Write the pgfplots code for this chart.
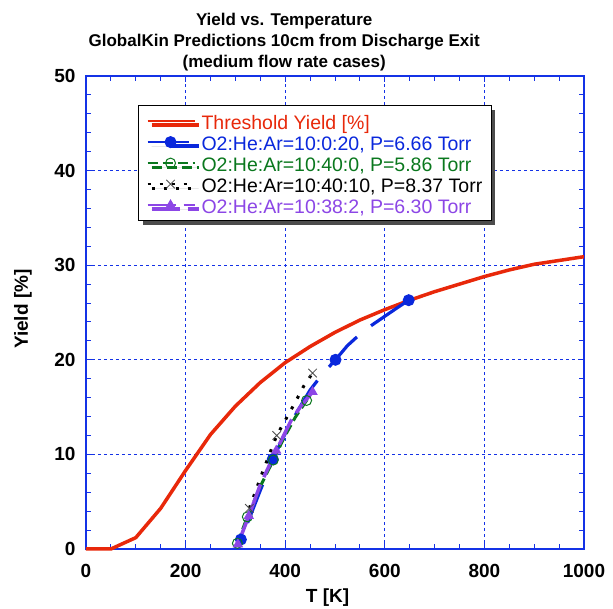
\documentclass[border=0pt]{standalone}
\usepackage{fontspec}
\setmainfont{Liberation Sans}
\usepackage{pgfplots}
\pgfplotsset{compat=1.18}
\usetikzlibrary{calc,shadows}
\definecolor{cRed}{HTML}{E8280A}
\definecolor{cBlue}{HTML}{0A28DC}
\definecolor{cAxis}{HTML}{1432E6}
\definecolor{cGreen}{HTML}{0A781E}
\definecolor{cPurple}{HTML}{8C46E6}

\begin{document}
\begin{tikzpicture}
\begin{axis}[
  scale only axis, width=498pt, height=473pt,
  xmin=0, xmax=1000, ymin=0, ymax=50,
  xtick={0,200,...,1000}, ytick={0,10,...,50},
  minor x tick num=3, minor y tick num=4,
  tick align=inside, major tick length=6pt, minor tick length=5pt,
  every tick/.style={cAxis, line width=1pt},
  axis line style={cAxis, line width=2pt},
  grid=major, major grid style={cAxis, line width=1pt, dash pattern=on 3pt off 3pt},
  ticklabel style={font=\fontsize{19}{22}\selectfont\bfseries},
  /pgf/number format/assume math mode=true,
  /pgf/number format/1000 sep={},
  xticklabel style={yshift=-12pt},
  yticklabel style={xshift=-7pt},
  xlabel={T [K]}, ylabel={Yield [\%]},
  label style={font=\fontsize{19}{22}\selectfont\bfseries},
  xlabel style={at={(axis description cs:0.485,-0.1036)}, anchor=center},
  ylabel style={at={(axis description cs:-0.1265,0.507)}, anchor=center},
  clip=false,
  legend image code/.code={
    \draw[#1, mark=none, dash phase=0pt, line width=2pt] (0pt,0pt) -- (47pt,0pt);
    \draw[#1] plot coordinates {(23pt,0pt)};
  },
  legend cell align=left,
  legend style={at={(0.104,0.939)}, anchor=north west,
    font=\fontsize{19.5}{21}\selectfont,
    draw=black, line width=1.5pt, inner xsep=8pt, inner ysep=5pt,
    column sep=5pt,
    nodes={inner sep=1pt, text height=18pt, text depth=1pt},
    drop shadow={shadow xshift=4pt, shadow yshift=-4pt, fill=black!70, opacity=1}},
]
\coordinate (O) at (rel axis cs:0,0);
\addplot[cRed, line width=3.5pt] coordinates
 {(0,0) (50,0) (100,1.2) (150,4.3) (200,8.3) (250,12.1) (300,15.1) (350,17.6)
  (400,19.7) (450,21.4) (500,22.9) (550,24.2) (600,25.3) (650,26.3) (700,27.2)
  (750,28.0) (800,28.8) (850,29.5) (900,30.1) (950,30.5) (1000,30.9)};
\addlegendentry{\color{cRed}Threshold Yield [\%]}
\addplot[cBlue, line width=3.2pt, dash pattern=on 41pt off 18pt, dash phase=41pt,
  mark=*, mark size=5.5pt, mark options={solid, line width=1pt}, mark indices={1,4,9,15}] coordinates
 {(311,1.0) (330,3.5) (350,6.2) (375,9.5) (400,12.2) (425,14.6) (450,16.8) (475,18.5)
  (501,20.0) (525,21.5) (550,22.7) (575,23.7) (600,24.6) (625,25.5) (648,26.3)};
\addlegendentry{\color{cBlue}O2:He:Ar=10:0:20, P=6.66 Torr}
\addplot[cGreen, line width=3pt, dash pattern=on 10pt off 5pt,
  mark=o, mark size=5pt, mark options={solid, line width=1pt}, mark indices={1,2,4,7}] coordinates
 {(304,0.6) (324,3.4) (350,6.6) (376,9.4) (400,12.0) (420,13.9) (443,15.7) (449,16.1)};
\addlegendentry{\color{cGreen}O2:He:Ar=10:40:0, P=5.86 Torr}
\addplot[black, line width=3pt, dash pattern=on 3pt off 9pt,
  mark=x, mark size=6pt, mark options={solid, line width=0.8pt, black!70}, mark indices={1,3,7}] coordinates
 {(328,4.3) (355,8.2) (383,12.0) (400,13.6) (420,15.5) (437,17.2) (455,18.6)};
\addlegendentry{\color{black}O2:He:Ar=10:40:10, P=8.37 Torr}
\addplot[cPurple, line width=3.5pt, dash pattern=on 28pt off 8pt,
  mark=triangle*, mark size=5pt, mark options={solid, line width=1pt}, mark indices={1,2,4,7}] coordinates
 {(305,0.5) (327,3.5) (350,6.8) (382,10.4) (412,13.6) (430,15.0) (455,16.6) (458,16.9)};
\addlegendentry{\color{cPurple}O2:He:Ar=10:38:2, P=6.30 Torr}
\node[align=center, font=\fontsize{17}{21}\selectfont\bfseries, inner sep=0pt, anchor=south]
  at (axis description cs:0.398,1) [yshift=5pt]
  {Yield vs. Temperature\\GlobalKin Predictions 10cm from Discharge Exit\\(medium flow rate cases)};
\end{axis}
\pgfresetboundingbox
\path ($(O)+(-86pt,-60pt)$) rectangle ($(O)+(527pt,549pt)$);
\end{tikzpicture}
\end{document}
